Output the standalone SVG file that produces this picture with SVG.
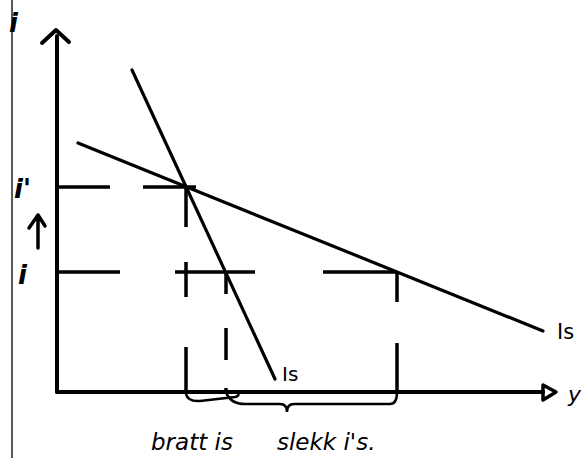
<svg xmlns="http://www.w3.org/2000/svg" width="588" height="458" viewBox="0 0 588 458">
<style>
.ax{stroke:#000;stroke-width:4;fill:none;stroke-linecap:round;stroke-linejoin:round}
.ln{stroke:#000;stroke-width:3.2;fill:none;stroke-linecap:round}
.ds{stroke:#000;stroke-width:3.5;fill:none}
.t{font-family:"DejaVu Sans","Liberation Sans",sans-serif;fill:#000}
</style>
<rect width="588" height="458" fill="#fff"/>
<line x1="12" y1="0" x2="12" y2="458" stroke="#000" stroke-width="1.3"/>
<g id="axes">
<path class="ax" d="M57,392 V36"/>
<path class="ax" d="M42,43 L56,30 L69,42"/>
<path class="ax" d="M57,392 H543"/>
<path d="M543,385 L556,392 L543,400 Z" fill="none" stroke="#000" stroke-width="3.5" stroke-linejoin="round"/>
</g>
<g id="connectors">
<line id="is-steep" class="ln" x1="132" y1="70" x2="275" y2="379"/>
<line id="is-flat" class="ln" x1="78" y1="143" x2="543" y2="331"/>
<path class="ds" d="M57,187 H110 M143,187 H196"/>
<path class="ds" d="M57,272 H120 M175,272 H255 M323,272 H397"/>
<path class="ds" d="M186,186 V227 M186,262 V297 M186,347 V392"/>
<path class="ds" d="M226,272 V294 M226,328 V360 M226,388 V392"/>
<path class="ds" d="M397,272 V302 M397,343 V392"/>
<path d="M186,394 Q188,402 200,401 L235,397 Q240,396 238,392" stroke="#000" stroke-width="2.5" fill="none"/>
<path d="M226,392 Q230,404 245,404 H280 Q287,404 287,412 Q287,404 294,404 H390 Q397,404 397,392" stroke="#000" stroke-width="2.5" fill="none"/>
<path d="M38,248 V215 M29,228 L38,215 L45,226" stroke="#000" stroke-width="3.5" fill="none" stroke-linecap="round" stroke-linejoin="round"/>
</g>
<g id="labels">
<text class="t" x="9" y="32" font-size="26" font-style="italic" font-weight="bold">i</text>
<text class="t" x="14" y="198" font-size="26" font-style="italic" font-weight="bold">i'</text>
<text class="t" x="18" y="284" font-size="26" font-style="italic" font-weight="bold">i</text>
<text class="t" x="282" y="381" font-size="20">Is</text>
<text class="t" x="557" y="339" font-size="21">Is</text>
<text class="t" x="568" y="402" font-size="22" font-style="italic">y</text>
<text class="t" x="151" y="450" font-size="23" font-style="italic">bratt is</text>
<text class="t" x="277" y="450" font-size="23" font-style="italic">slekk i's.</text>
</g>
</svg>
